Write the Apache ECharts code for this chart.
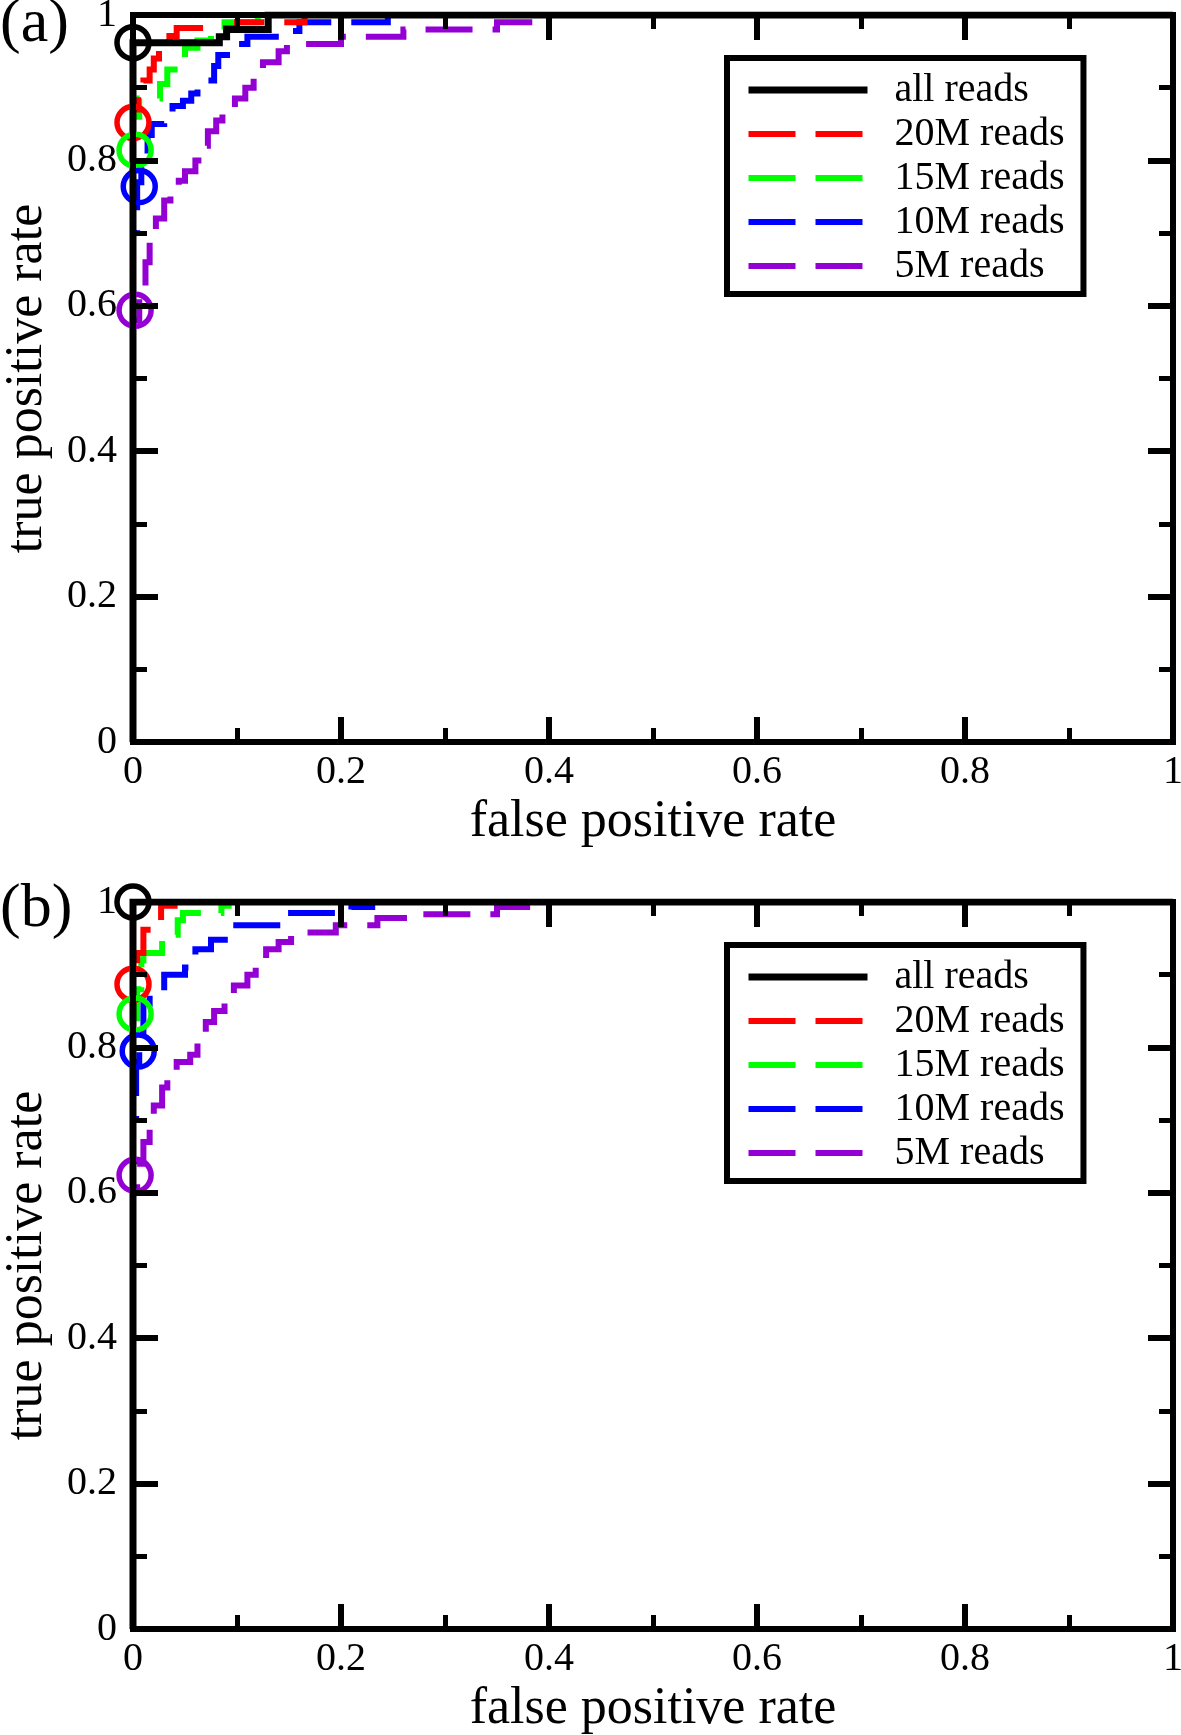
<!DOCTYPE html>
<html><head><meta charset="utf-8">
<script src="https://cdn.jsdelivr.net/npm/echarts@6/dist/echarts.min.js"></script>
<style>html,body{margin:0;padding:0;background:#fff}#c{width:1181px;height:1735px}</style>
</head><body><div id="c"></div>
<script>
// ---------- data ----------
const seriesNames = ['all reads', '20M reads', '15M reads', '10M reads', '5M reads'];

// panel (a) ROC curves: [false positive rate, true positive rate]
const rocA_all = [[0,0],[0,0.962],[0.083,0.962],[0.083,0.97],[0.09,0.97],[0.09,0.98],[0.13,0.98],[0.13,1],[1,1]];
const rocA_20M = [[0,0],[0,0.87],[0.005,0.87],[0.005,0.895],[0.01,0.895],[0.01,0.91],[0.016,0.91],[0.016,0.925],[0.02,0.925],[0.02,0.94],[0.025,0.94],[0.025,0.955],[0.035,0.955],[0.035,0.971],[0.042,0.971],[0.042,0.982],[0.1,0.982],[0.1,0.99],[0.165,0.99],[0.165,1],[1,1]];
const rocA_15M = [[0,0],[0,0.86],[0.006,0.86],[0.006,0.885],[0.026,0.885],[0.026,0.905],[0.033,0.905],[0.033,0.925],[0.04,0.925],[0.04,0.935],[0.05,0.935],[0.05,0.955],[0.062,0.955],[0.062,0.965],[0.075,0.965],[0.075,0.975],[0.088,0.975],[0.088,0.99],[0.12,0.99],[0.12,1],[1,1]];
const rocA_10M = [[0,0],[0,0.7],[0.004,0.7],[0.004,0.77],[0.008,0.77],[0.008,0.8],[0.014,0.8],[0.014,0.835],[0.018,0.835],[0.018,0.85],[0.03,0.85],[0.03,0.86],[0.038,0.86],[0.038,0.875],[0.048,0.875],[0.048,0.882],[0.056,0.882],[0.056,0.892],[0.062,0.892],[0.062,0.9],[0.072,0.9],[0.072,0.91],[0.078,0.91],[0.078,0.93],[0.082,0.93],[0.082,0.945],[0.1,0.945],[0.1,0.96],[0.11,0.96],[0.11,0.97],[0.145,0.97],[0.145,0.978],[0.16,0.978],[0.16,0.99],[0.245,0.99],[0.245,1],[1,1]];
const rocA_5M = [[0,0],[0,0.58],[0.006,0.58],[0.006,0.62],[0.012,0.62],[0.012,0.66],[0.016,0.66],[0.016,0.7],[0.022,0.7],[0.022,0.72],[0.03,0.72],[0.03,0.745],[0.036,0.745],[0.036,0.765],[0.044,0.765],[0.044,0.772],[0.05,0.772],[0.05,0.785],[0.06,0.785],[0.06,0.8],[0.066,0.8],[0.066,0.82],[0.072,0.82],[0.072,0.84],[0.08,0.84],[0.08,0.855],[0.086,0.855],[0.086,0.87],[0.098,0.87],[0.098,0.885],[0.108,0.885],[0.108,0.9],[0.116,0.9],[0.116,0.918],[0.125,0.918],[0.125,0.935],[0.14,0.935],[0.14,0.95],[0.148,0.95],[0.148,0.96],[0.2,0.96],[0.2,0.97],[0.26,0.97],[0.26,0.98],[0.35,0.98],[0.35,0.99],[0.395,0.99],[0.395,1],[1,1]];
// panel (a) circled operating points
const pointsA = [[0,0.962],[0,0.852],[0.002,0.814],[0.006,0.764],[0.002,0.594]];

// panel (b) ROC curves
const rocB_all = [[0,0],[0,1],[1,1]];
const rocB_20M = [[0,0],[0,0.9],[0.004,0.9],[0.004,0.93],[0.01,0.93],[0.01,0.962],[0.022,0.962],[0.022,0.975],[0.027,0.975],[0.027,0.995],[0.04,0.995],[0.04,1],[1,1]];
const rocB_15M = [[0,0],[0,0.84],[0.004,0.84],[0.004,0.88],[0.008,0.88],[0.008,0.92],[0.01,0.92],[0.01,0.93],[0.028,0.93],[0.028,0.955],[0.043,0.955],[0.043,0.975],[0.048,0.975],[0.048,0.985],[0.085,0.985],[0.085,0.995],[0.092,0.995],[0.092,1],[1,1]];
const rocB_10M = [[0,0],[0,0.7],[0.003,0.7],[0.003,0.78],[0.006,0.78],[0.006,0.82],[0.01,0.82],[0.01,0.86],[0.016,0.86],[0.016,0.875],[0.03,0.875],[0.03,0.9],[0.05,0.9],[0.05,0.91],[0.06,0.91],[0.06,0.935],[0.075,0.935],[0.075,0.948],[0.095,0.948],[0.095,0.968],[0.152,0.968],[0.152,0.985],[0.21,0.985],[0.21,0.993],[0.23,0.993],[0.23,1],[1,1]];
const rocB_5M = [[0,0],[0,0.6],[0.004,0.6],[0.004,0.64],[0.01,0.64],[0.01,0.67],[0.016,0.67],[0.016,0.695],[0.02,0.695],[0.02,0.72],[0.028,0.72],[0.028,0.745],[0.033,0.745],[0.033,0.765],[0.042,0.765],[0.042,0.78],[0.055,0.78],[0.055,0.79],[0.062,0.79],[0.062,0.81],[0.07,0.81],[0.07,0.835],[0.078,0.835],[0.078,0.85],[0.088,0.85],[0.088,0.868],[0.097,0.868],[0.097,0.885],[0.11,0.885],[0.11,0.9],[0.118,0.9],[0.118,0.915],[0.128,0.915],[0.128,0.935],[0.14,0.935],[0.14,0.945],[0.152,0.945],[0.152,0.958],[0.195,0.958],[0.195,0.968],[0.235,0.968],[0.235,0.978],[0.265,0.978],[0.265,0.983],[0.35,0.983],[0.35,0.993],[0.39,0.993],[0.39,1],[1,1]];
const pointsB = [[0,1.0],[0,0.887],[0.002,0.846],[0.005,0.795],[0.002,0.624]];

const panelLabels = ['(a)', '(b)'];
const xTitle = 'false positive rate';
const yTitle = 'true positive rate';

// ---------- styles / layout ----------
const colors = ['#000000', '#ff0000', '#00ff00', '#0000ff', '#9400d3'];
const FONT = '"Liberation Serif", "Times New Roman", serif';
const DASH = [47, 20];
const panels = [
  {top: 15, legendTop: 58, labelY: 25, curves: [rocA_all, rocA_20M, rocA_15M, rocA_10M, rocA_5M], points: pointsA},
  {top: 902, legendTop: 945, labelY: 910, curves: [rocB_all, rocB_20M, rocB_15M, rocB_10M, rocB_5M], points: pointsB}
];
const AXW = 6;

function axisCommon(gi, showLabel) {
  return {
    type: 'value', min: 0, max: 1, interval: 0.2, gridIndex: gi, z: 10,
    axisLine: {show: true, onZero: false, lineStyle: {color: '#000', width: AXW, cap: 'square'}},
    axisTick: {show: true, inside: true, length: 25, lineStyle: {color: '#000', width: 6}},
    minorTick: {show: true, splitNumber: 2, length: 14, lineStyle: {color: '#000', width: 5}},
    splitLine: {show: false}, minorSplitLine: {show: false},
    axisLabel: {show: showLabel, color: '#000', fontSize: 40, fontFamily: FONT}
  };
}

const grids = [], xAxes = [], yAxes = [], series = [], legends = [], graphics = [];
panels.forEach((p, gi) => {
  grids.push({left: 133, top: p.top, width: 1040, height: 727, show: false, containLabel: false, outerBoundsMode: 'none'});
  const xb = axisCommon(gi, true);
  Object.assign(xb, {position: 'bottom', name: xTitle, nameLocation: 'middle', nameGap: 54,
    nameTextStyle: {color: '#000', fontSize: 52, fontFamily: FONT}});
  xb.axisLabel.margin = 10;
  const xt = axisCommon(gi, false); xt.position = 'top';
  const yl = axisCommon(gi, true);
  Object.assign(yl, {position: 'left', name: yTitle, nameLocation: 'middle', nameGap: 80,
    nameTextStyle: {color: '#000', fontSize: 52, fontFamily: FONT}});
  yl.axisLabel.margin = 16;
  const yr = axisCommon(gi, false); yr.position = 'right';
  xAxes.push(xb, xt); yAxes.push(yl, yr);
  const xi = gi * 2, yi = gi * 2;
  p.curves.forEach((d, k) => {
    series.push({
      type: 'line', name: seriesNames[k], xAxisIndex: xi, yAxisIndex: yi, data: d,
      symbol: 'none', showSymbol: false, z: 3 + (4 - k) * 0.1, animation: false,
      lineStyle: {color: colors[k], width: k === 0 ? 7 : 6, type: k === 0 ? 'solid' : DASH, join: 'miter', cap: 'butt'},
      itemStyle: {color: colors[k]}
    });
  });
  p.points.forEach((pt, k) => {
    series.push({
      type: 'scatter', name: 'op-' + gi + '-' + k, xAxisIndex: xi, yAxisIndex: yi, data: [pt],
      symbol: 'circle', symbolSize: 32, z: 5, silent: true,
      itemStyle: {color: 'rgba(0,0,0,0)', borderColor: colors[k], borderWidth: 5.5, opacity: 1}
    });
  });
  legends.push({
    data: seriesNames.map((n, k) => ({
      name: n,
      itemStyle: {color: 'rgba(0,0,0,0)', borderWidth: 0, opacity: 0},
      lineStyle: {color: colors[k], width: k === 0 ? 7 : 6, type: k === 0 ? 'solid' : DASH, cap: 'butt', opacity: 1}
    })),
    orient: 'vertical', left: 727, top: p.legendTop,
    padding: [12, 19, 8, 18], itemGap: 4, itemWidth: 119, itemHeight: 40,
    borderColor: '#000', borderWidth: 6, backgroundColor: '#fff', selectedMode: false, z: 12,
    itemStyle: {color: 'rgba(0,0,0,0)', borderWidth: 0, opacity: 0},
    textStyle: {color: '#000', fontSize: 40, fontFamily: FONT, padding: [0, 0, 0, 22]}
  });
  graphics.push({type: 'text', x: 0, y: p.labelY, z: 20,
    style: {text: panelLabels[gi], fill: '#000', fontSize: 62, fontFamily: FONT, verticalAlign: 'middle', align: 'left'}});
});

const chart = echarts.init(document.getElementById('c'), null, {renderer: 'canvas', width: 1181, height: 1735});
chart.setOption({
  animation: false,
  backgroundColor: '#ffffff',
  grid: grids, xAxis: xAxes, yAxis: yAxes, series: series, legend: legends, graphic: graphics
});
</script></body></html>
